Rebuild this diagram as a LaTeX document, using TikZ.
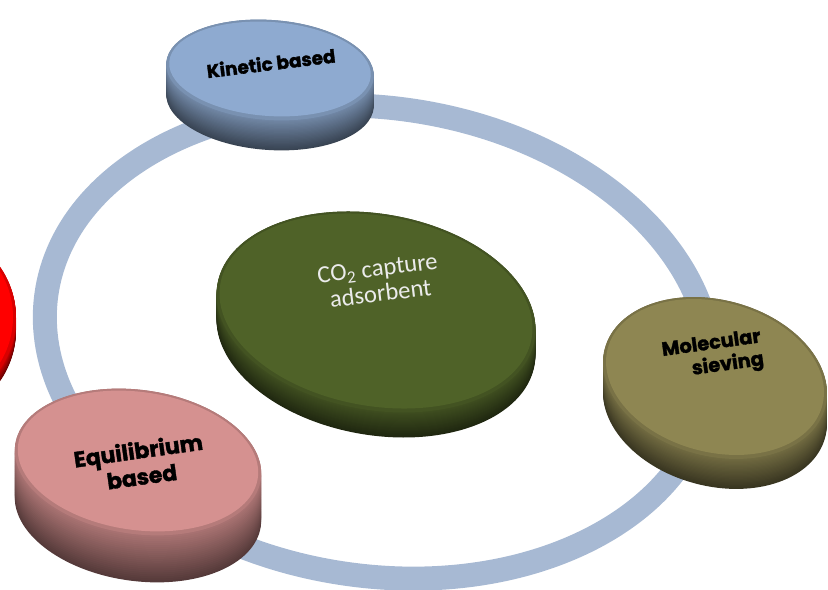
\documentclass[tikz,border=0pt]{standalone}
\usepackage{fontspec}
\setmainfont{Carlito}
\newfontfamily\rondfont{Poppins}[BoldFeatures={FakeBold=1.6}]

\definecolor{ringblauw}{HTML}{A7B9D3}
\definecolor{kinetisch}{HTML}{8EAAD0}
\definecolor{adsorbens}{HTML}{4F6228}
\definecolor{zeef}{HTML}{8E8652}
\definecolor{evenwicht}{HTML}{D59190}
\definecolor{rood}{HTML}{FF0000}

% schijf: x, y, rx, ry, hoek, dikte, kleur
\newcommand{\schijf}[7]{%
    \foreach \k in {0,...,24} {
        \pgfmathsetmacro{\off}{#6*(1-\k/24)}
        \pgfmathsetmacro{\tint}{40+40*\k/24}
        \fill[#7!\tint!black, rotate around={#5:(#1,#2+\off)}]
            (#1,#2+\off) ellipse ({#3} and {#4});
    }
    \fill[#7!85!black, rotate around={#5:(#1,#2)}] (#1,#2) ellipse ({#3} and {#4});
    \fill[#7, rotate around={#5:(#1,#2-1)}] (#1,#2-1) ellipse ({#3-3} and {#4-3});
}

\begin{document}
\begin{tikzpicture}[
        x = 0.02cm, y = -0.02cm,
        ring/.style = {draw = ringblauw, line width = 0.48cm},
        etiket/.style = {text = black, inner sep = 0pt, align = center},
        centrum/.style = {
            text = white!92!black, inner sep = 0pt, align = center,
            font = \fontsize{14}{14.5}\selectfont,
        },
        ]

        \useasboundingbox (0,0) rectangle (828,590);
        \clip (0,0) rectangle (828,590);

        % Ring
        \path[ring, rotate around = {-8.4:(378,342)}] (378,342) ellipse (335 and 234);

        % Schijven
        \schijf{-70}{318}{86}{88}{0}{12}{rood}
        \schijf{270}{70}{104}{50}{-4}{30}{kinetisch}
        \schijf{376}{312}{161}{98}{-10}{25}{adsorbens}
        \schijf{715}{378}{114}{78}{-15}{30}{zeef}
        \schijf{138}{462}{124}{72}{-8}{47}{evenwicht}

        % Teksten
        \node[etiket, rotate = 7, font = \rondfont\bfseries\fontsize{10.5}{12}\selectfont]
            (kinetic) at (271,63) {Kinetic based};
        \node[etiket, rotate = 8, font = \rondfont\bfseries\fontsize{12.5}{15}\selectfont]
            (equilibrium) at (140,463) {Equilibrium\\based};
        \node[etiket, rotate = 8, align = right, font = \rondfont\bfseries\fontsize{11}{13}\selectfont]
            (sieving) at (713,356) {Molecular\\sieving};
        \node[centrum, rotate = 7] (adsorbent) at (379,281) {CO\textsubscript{2} capture\\adsorbent};
    \end{tikzpicture}
\end{document}
